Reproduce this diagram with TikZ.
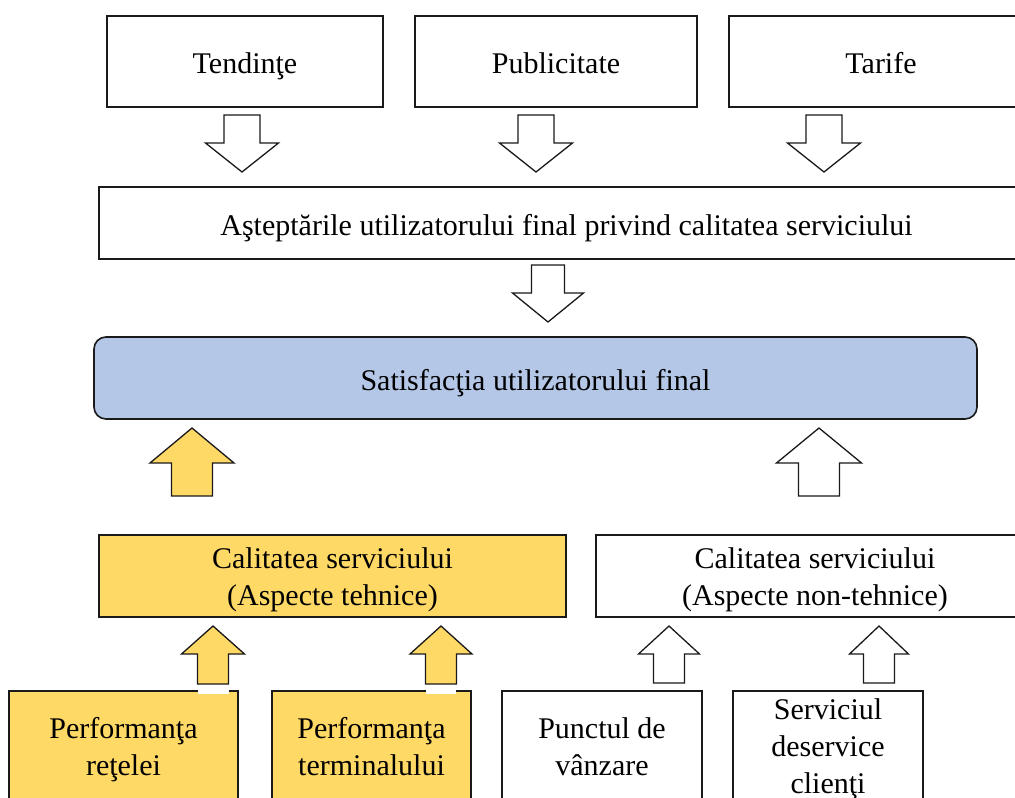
\documentclass[tikz,border=0pt]{standalone}
\usepackage{fontspec}
\setmainfont{Liberation Serif}
\definecolor{goldfill}{HTML}{FFD966}
\definecolor{bluefill}{HTML}{B4C7E7}
\definecolor{edge}{HTML}{1A1A1A}
\newcommand{\upblock}[7]{% fill, cx, tip y, wing y, bottom y, wing half, shaft half
  \draw[blockarrow, fill=#1] (#2,#3) -- (#2+#6,#4) -- (#2+#7,#4) -- (#2+#7,#5)
    -- (#2-#7,#5) -- (#2-#7,#4) -- (#2-#6,#4) -- cycle;}
\newcommand{\dnblock}[7]{% fill, cx, top y, wing y, tip y, wing half, shaft half
  \draw[blockarrow, fill=#1] (#2-#7,#3) -- (#2+#7,#3) -- (#2+#7,#4) -- (#2+#6,#4)
    -- (#2,#5) -- (#2-#6,#4) -- (#2-#7,#4) -- cycle;}
\begin{document}
\begin{tikzpicture}[x=1pt,y=-1pt,
  box/.style={draw=edge, line width=1.6pt, rectangle, inner sep=0pt, outer sep=0pt,
    align=center, text=black, font=\fontsize{30}{37}\selectfont,
    text height=24pt, text depth=0pt},
  blockarrow/.style={draw=edge, line width=1.3pt, line join=miter},
  ]
\useasboundingbox (0,0) rectangle (1015,798);
\clip (0,0) rectangle (1015,798);
\fill[white] (0,0) rectangle (1015,798);

% top row
\node[box, minimum width=276, minimum height=91] (tend) at (245,61.5) {Tendinţe};
\node[box, minimum width=282, minimum height=91] (publ) at (556,61.5) {Publicitate};
\node[box, minimum width=304, minimum height=91] (tarif) at (881,61.5) {Tarife};

\dnblock{white}{242}{115}{143}{172}{36.5}{18}
\dnblock{white}{536}{115}{143}{172}{36.5}{18}
\dnblock{white}{824}{115}{143}{172}{36.5}{18}

\node[box, minimum width=935, minimum height=72] (astep) at (566.5,223)
  {Aşteptările utilizatorului final privind calitatea serviciului};

\dnblock{white}{548}{265}{293}{322}{35.5}{16.5}

\node[box, fill=bluefill, rounded corners=12pt, minimum width=883, minimum height=82] (satis) at (535.5,378)
  {Satisfacţia utilizatorului final};

\upblock{goldfill}{192}{428}{463}{496}{42}{20.5}
\upblock{white}{819}{428}{463}{496}{42.5}{20.5}

\node[box, fill=goldfill, minimum width=467, minimum height=82, text height=58pt] (tehn) at (332.5,576)
  {Calitatea serviciului\\(Aspecte tehnice)};
\node[box, minimum width=438, minimum height=82, text height=58pt] (nontehn) at (815,576)
  {Calitatea serviciului\\(Aspecte non-tehnice)};

% bottom row
\node[box, fill=goldfill, minimum width=229, minimum height=115, text height=53pt] (retea) at (123.5,748.5)
  {Performanţa\\reţelei};
\node[box, fill=goldfill, minimum width=199, minimum height=115, text height=53pt] (term) at (371.5,748.5)
  {Performanţa\\terminalului};
\node[box, minimum width=200, minimum height=115, text height=53pt] (punct) at (602,748.5)
  {Punctul de\\vânzare};
\node[box, minimum width=190, minimum height=115, text height=89pt] (serv) at (828,748.5)
  {Serviciul\\deservice\\clienţi};

\upblock{goldfill}{213}{626}{654}{684}{31.5}{15.5}
\upblock{goldfill}{441}{626}{654}{684}{31}{15.5}
\upblock{white}{669}{626}{654}{683}{30.5}{15.5}
\upblock{white}{879}{626}{654}{683}{29.5}{15.5}

% white gaps on the yellow boxes' top border under the yellow arrows
\fill[white] (198,689.5) rectangle (229,694);
\fill[white] (426,689.5) rectangle (456,694);
\end{tikzpicture}
\end{document}
